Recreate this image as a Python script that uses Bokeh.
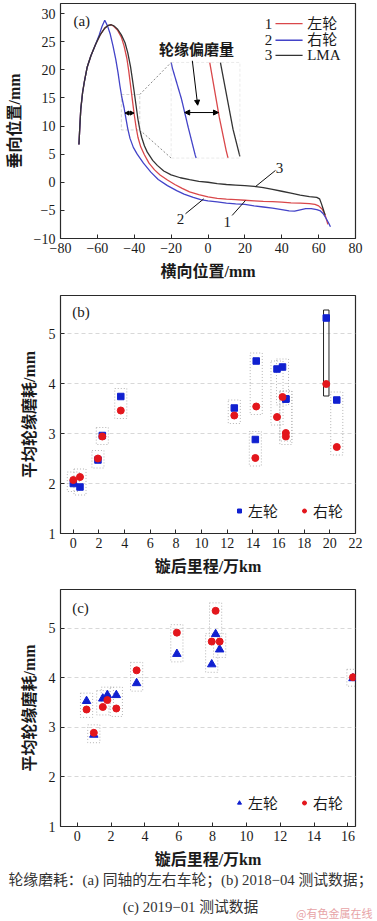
import numpy as np
from bokeh.plotting import figure
from bokeh.layouts import column
from bokeh.models import (Range1d, FixedTicker, CustomJSTickFormatter,
                          Legend, LegendItem, Label, Arrow, NormalHead, BoxAnnotation)
from bokeh.embed import file_html
from bokeh.resources import INLINE

# ---------------- data: panel (a) wheel profiles ----------------
lma_x = [-70.0, -69.5, -69.0, -68.0, -67.0, -65.5, -63.5, -61.0, -58.5, -56.0, -54.0, -52.5, -51.0, -49.0,
         -47.0, -45.0, -43.5, -42.0, -41.0, -40.0, -39.0, -38.0, -37.0, -36.0, -34.5, -33.0, -30.0, -27.5,
         -24.0, -20.0, -15.0, -10.0, -5.0, 0.0, 5.0, 10.0, 15.0, 20.0, 25.0, 30.0, 35.0, 40.0, 45.0, 50.0,
         55.0, 59.0, 60.5, 61.5, 62.5, 63.5]
lma_y = [6.7, 10.0, 13.0, 16.0, 18.0, 20.5, 22.5, 24.5, 26.2, 27.4, 27.9, 28.0, 27.8, 27.2,
         26.2, 24.8, 23.0, 20.5, 18.3, 16.0, 13.6, 11.2, 9.4, 8.0, 6.5, 5.4, 3.9, 3.0,
         2.0, 1.3, 0.8, 0.45, 0.15, 0.0, -0.25, -0.4, -0.5, -0.6, -0.75, -0.95, -1.25, -1.6, -1.95, -2.3,
         -2.55, -2.7, -2.95, -3.8, -4.8, -5.8]
left_x = [-70.0, -69.5, -69.0, -68.0, -67.0, -65.5, -63.5, -61.0, -58.5, -56.0, -54.0, -52.5, -51.0, -49.0,
          -47.0, -45.5, -44.0, -43.0, -42.0, -41.0, -40.0, -39.0, -38.0, -36.5, -34.5, -32.0, -29.0, -26.0,
          -22.0, -18.0, -14.0, -10.0, -5.0, 0.0, 5.0, 10.0, 15.0, 20.0, 25.0, 30.0, 35.0, 40.0, 45.0, 50.0,
          55.0, 58.0, 60.0, 62.0, 63.5, 64.5, 65.0]
left_y = [6.7, 10.0, 13.0, 16.0, 18.0, 20.5, 22.5, 24.5, 26.2, 27.4, 27.9, 28.0, 27.7, 27.0,
          25.8, 24.2, 22.0, 19.8, 17.2, 14.6, 12.0, 9.8, 8.0, 6.3, 4.9, 3.4, 2.2, 1.3,
          0.4, -0.4, -1.1, -1.7, -2.2, -2.6, -2.85, -3.0, -3.1, -3.2, -3.3, -3.4, -3.45, -3.55, -3.65, -3.7,
          -3.8, -3.95, -4.2, -4.8, -5.8, -6.9, -7.5]
right_x = [-70.0, -69.5, -69.0, -68.0, -67.0, -65.5, -63.5, -61.0, -59.0, -57.5, -56.0, -54.5, -53.0, -51.5,
           -50.0, -48.8, -47.8, -46.8, -45.5, -44.5, -43.5, -42.3, -40.5, -38.4, -35.0, -31.0, -27.0, -22.0,
           -17.0, -13.0, -8.0, -4.0, 0.0, 5.0, 10.0, 15.0, 20.0, 25.0, 30.0, 35.0, 40.0, 44.0, 47.0, 50.0,
           53.0, 56.0, 59.0, 61.0, 62.5, 64.0, 65.5, 66.4]
right_y = [6.7, 10.0, 13.0, 16.0, 18.0, 20.5, 22.5, 24.5, 26.2, 27.7, 28.8, 27.8, 26.3, 24.2,
           21.8, 19.5, 17.2, 15.2, 13.2, 11.3, 9.5, 7.8, 6.2, 5.0, 3.4, 1.8, 0.5, -0.6,
           -1.5, -2.1, -2.7, -3.1, -3.3, -3.5, -3.7, -3.85, -3.95, -4.2, -4.4, -4.6, -4.85, -5.1, -5.15, -4.9,
           -4.7, -4.7, -4.85, -5.1, -5.6, -6.4, -7.3, -7.9]
a_xticks = [-80, -60, -40, -20, 0, 20, 40, 60, 80]
a_yticks = [-10, -5, 0, 5, 10, 15, 20, 25, 30]
a_series = ["左轮", "右轮", "LMA"]

# ---------------- data: panel (b) 2018-04 ----------------
b_km = [0.0, 0.52, 1.92, 2.26, 3.70, 12.55, 14.26, 14.19, 15.88, 16.31, 16.57, 16.57, 19.72, 20.54]
b_left = [2.00, 1.93, 2.47, 2.96, 3.74, 3.51, 4.45, 2.88, 4.29, 4.33, 3.69, 3.69, 5.31, 3.67]
b_right = [2.07, 2.13, 2.50, 2.94, 3.46, 3.36, 3.54, 2.51, 3.33, 3.73, 3.01, 2.94, 3.99, 2.73]
b_xticks = [0, 2, 4, 6, 8, 10, 12, 14, 16, 18, 20, 22]

# ---------------- data: panel (c) 2019-01 ----------------
c_km = [0.55, 0.98, 1.51, 1.78, 2.31, 3.51, 5.89, 7.95, 8.18, 8.42, 16.3]
c_left = [3.53, 2.85, 3.58, 3.65, 3.65, 3.89, 4.48, 4.27, 4.88, 4.57, 3.99]
c_right = [3.36, 2.89, 3.41, 3.55, 3.38, 4.15, 4.91, 4.73, 5.35, 4.73, 4.01]
c_xticks = [0, 2, 4, 6, 8, 10, 12, 14, 16]
wear_yticks = [1, 2, 3, 4, 5]

SERIF = "Liberation Serif, Noto Sans CJK SC"
TXT = "#1a1a1a"
RED_L = "#d9474a"
BLUE_L = "#4343c8"
BLACK_L = "#333333"
BLUE_M = "#1020d0"
RED_M = "#e3161c"
W = 377


def base(height, xr, yr, top, bottom):
    p = figure(width=W, height=height, x_range=Range1d(*xr), y_range=Range1d(*yr),
               output_backend="svg", toolbar_location=None,
               min_border_left=60, min_border_right=22, min_border_top=top, min_border_bottom=bottom)
    p.outline_line_color = "#2a2a2a"
    p.outline_line_width = 1.2
    p.outline_line_alpha = 1.0
    for ax in (p.xaxis[0], p.yaxis[0]):
        ax.axis_line_color = None
        ax.major_tick_in = 4
        ax.major_tick_out = 0
        ax.minor_tick_line_color = None
        ax.major_tick_line_color = "#2a2a2a"
        ax.major_label_text_font = "Liberation Serif"
        ax.major_label_text_font_size = "14px"
        ax.major_label_text_color = TXT
        ax.axis_label_text_font = SERIF
        ax.axis_label_text_font_style = "bold"
        ax.axis_label_text_font_size = "16px"
        ax.axis_label_text_color = TXT
    p.xaxis.major_label_standoff = 4
    p.yaxis.major_label_standoff = 5
    p.xaxis.axis_label_standoff = 7
    p.yaxis.axis_label_standoff = 8
    p.xgrid.visible = False
    return p


# ======================= panel (a) =======================
pa = base(285, (-80, 80), (-10, 31.78), 3, 47)
pa.ygrid.visible = False
pa.xaxis.ticker = FixedTicker(ticks=a_xticks)
pa.yaxis.ticker = FixedTicker(ticks=a_yticks)
pa.xaxis.formatter = CustomJSTickFormatter(code="return tick < 0 ? '\u2212' + Math.abs(tick) : String(tick);")
pa.yaxis.formatter = CustomJSTickFormatter(code="return tick < 0 ? '\u2212' + Math.abs(tick) : String(tick);")
pa.xaxis.axis_label = "横向位置/mm"
pa.yaxis.axis_label = "垂向位置/mm"

r_left = pa.line(left_x, left_y, line_color=RED_L, line_width=1.3)
r_right = pa.line(right_x, right_y, line_color=BLUE_L, line_width=1.3)
r_lma = pa.line(lma_x, lma_y, line_color=BLACK_L, line_width=1.3)

# inset: magnified view of the flank region
SX = (-47.0, -37.0)
SY = (9.3, 15.6)
BX = (-20.0, 17.3)
BY = (4.3, 21.3)


def to_big(x, y):
    X = BX[0] + (np.asarray(x) - SX[0]) * (BX[1] - BX[0]) / (SX[1] - SX[0])
    Y = BY[0] + (np.asarray(y) - SY[0]) * (BY[1] - BY[0]) / (SY[1] - SY[0])
    return X, Y


def inset(xs, ys):
    xs = np.asarray(xs, float)
    ys = np.asarray(ys, float)
    t = np.linspace(0, len(xs) - 1, 6000)
    xi = np.interp(t, np.arange(len(xs)), xs)
    yi = np.interp(t, np.arange(len(ys)), ys)
    m = (xi >= SX[0]) & (xi <= SX[1]) & (yi >= SY[0]) & (yi <= SY[1])
    return to_big(xi[m], yi[m])


def x_at(xs, ys, y0):
    k = int(np.argmax(ys))
    for i in range(k, len(xs) - 1):
        if (ys[i] - y0) * (ys[i + 1] - y0) <= 0:
            return xs[i] + (y0 - ys[i]) * (xs[i + 1] - xs[i]) / (ys[i + 1] - ys[i])
    return xs[-1]


for xs, ys, c in ((right_x, right_y, BLUE_L), (left_x, left_y, RED_L), (lma_x, lma_y, BLACK_L)):
    X, Y = inset(xs, ys)
    pa.line(X, Y, line_color=c, line_width=1.3)

pa.add_layout(BoxAnnotation(left=SX[0], right=SX[1], bottom=SY[0], top=SY[1], fill_alpha=0,
                            line_color="#777777", line_dash="3 2", line_width=1))
pa.add_layout(BoxAnnotation(left=BX[0], right=BX[1], bottom=BY[0], top=BY[1], fill_alpha=0,
                            line_color="#b8b8b8", line_dash="3 2", line_width=1))
pa.add_layout(Arrow(x_start=SX[1], y_start=SY[1], x_end=BX[0], y_end=BY[1], end=None,
                    line_color="#8a8a8a", line_dash="2 2", line_width=1))
pa.add_layout(Arrow(x_start=SX[1], y_start=SY[0], x_end=BX[0], y_end=BY[0], end=None,
                    line_color="#8a8a8a", line_dash="2 2", line_width=1))

ya = 12.3
xb_s, xr_s = x_at(right_x, right_y, ya), x_at(left_x, left_y, ya)
pa.add_layout(Arrow(x_start=xb_s, y_start=ya, x_end=xr_s, y_end=ya, line_width=1,
                    start=NormalHead(size=4, fill_color="black"), end=NormalHead(size=4, fill_color="black")))
(bx1, bx2), (by1, _) = to_big([xb_s, xr_s], [ya, ya])
pa.add_layout(Arrow(x_start=bx1, y_start=by1, x_end=bx2, y_end=by1, line_width=1,
                    start=NormalHead(size=5, fill_color="black"), end=NormalHead(size=5, fill_color="black")))
pa.add_layout(Arrow(x_start=-8.5, y_start=21.6, x_end=-5.6, y_end=by1 + 1.3, line_width=1,
                    end=NormalHead(size=5, fill_color="black")))
pa.add_layout(Label(x=-6.2, y=23.6, text="轮缘偏磨量", text_font=SERIF, text_font_style="bold",
                    text_font_size="15px", text_align="center", text_baseline="middle", text_color=TXT))

# leader lines with curve numbers
for (x0, y0, x1, y1, lx, ly, t) in ((25.8, -0.76, 36.6, 2.1, 38.8, 2.6, "3"),
                                    (-2.3, -2.95, -12.2, -5.6, -14.9, -6.6, "2"),
                                    (20.3, -3.25, 13.1, -5.9, 10.4, -7.1, "1")):
    pa.add_layout(Arrow(x_start=x0, y_start=y0, x_end=x1, y_end=y1, end=None,
                        line_color="#111111", line_width=1))
    pa.add_layout(Label(x=lx, y=ly, text=t, text_font="Liberation Serif", text_font_size="15px",
                        text_align="center", text_baseline="middle", text_color=TXT))

pa.add_layout(Label(x=-73, y=28.6, text="(a)", text_font="Liberation Serif", text_font_size="15px",
                    text_align="left", text_baseline="middle", text_color=TXT))

# legend of panel (a): number, line sample, name
for i, (name, col, yy) in enumerate(zip(a_series, (RED_L, BLUE_L, BLACK_L), (28.2, 25.25, 22.55))):
    pa.add_layout(Label(x=32.8, y=yy, text=str(i + 1), text_font="Liberation Serif", text_font_size="15px",
                        text_align="center", text_baseline="middle", text_color=TXT))
    pa.add_layout(Arrow(x_start=36.6, y_start=yy, x_end=51.3, y_end=yy, end=None,
                        line_color=col, line_width=1.3))
    pa.add_layout(Label(x=53.8, y=yy, text=name, text_font=SERIF, text_font_size="15px",
                        text_align="left", text_baseline="middle", text_color=TXT))


# ======================= panels (b), (c) =======================
def wear_panel(height, frame_h, xr, yr, xticks, km, left, right, marker, msize, solid_idx, dx, dy, leg_y):
    p = base(height, xr, yr, 10, height - 10 - frame_h)
    p.xaxis.ticker = FixedTicker(ticks=xticks)
    p.yaxis.ticker = FixedTicker(ticks=wear_yticks)
    p.ygrid.ticker = FixedTicker(ticks=wear_yticks)
    p.ygrid.grid_line_color = "#d8d8d8"
    p.ygrid.grid_line_dash = "4 3"
    p.xaxis.axis_label = "镟后里程/万km"
    p.yaxis.axis_label = "平均轮缘磨耗/mm"
    km_a = np.asarray(km)
    lo = np.minimum(left, right) - dy
    hi = np.maximum(left, right) + dy
    dotted = [i for i in range(len(km)) if i not in solid_idx]
    p.quad(left=km_a[dotted] - dx, right=km_a[dotted] + dx, bottom=lo[dotted], top=hi[dotted],
           fill_alpha=0, line_color="#b4b4b4", line_dash="1 2", line_width=1)
    if solid_idx:
        p.quad(left=km_a[solid_idx] - dx * 0.45, right=km_a[solid_idx] + dx * 0.45,
               bottom=lo[solid_idx] - dy * 0.5, top=hi[solid_idx], fill_alpha=0,
               line_color="#222222", line_width=1)
    rl = p.scatter(km, left, marker=marker, size=msize, fill_color=BLUE_M, line_color=BLUE_M)
    rr = p.scatter(km, right, marker="circle", size=7, fill_color=RED_M, line_color=RED_M)
    leg = Legend(items=[LegendItem(label="左轮", renderers=[rl]), LegendItem(label="右轮", renderers=[rr])],
                 orientation="horizontal", location=(174, leg_y), padding=0, margin=0, spacing=21,
                 glyph_width=10, glyph_height=15, label_height=15, label_standoff=4,
                 border_line_color=None, background_fill_alpha=0,
                 label_text_font=SERIF, label_text_font_size="15px", label_text_color=TXT)
    p.add_layout(leg)
    return p


pb = wear_panel(294, 238, (-1.0, 22.0), (1.0, 5.76), b_xticks, b_km, b_left, b_right, "square", 6.5,
                [12], 0.47, 0.16, 12)
pb.add_layout(Label(x=-0.08, y=5.43, text="(b)", text_font="Liberation Serif", text_font_size="15px",
                    text_align="left", text_baseline="middle", text_color=TXT))

pc = wear_panel(291, 239, (-0.99, 16.45), (1.0, 5.78), c_xticks, c_km, c_left, c_right, "triangle", 8.5,
                [], 0.36, 0.16, 13)
pc.add_layout(Label(x=-0.3, y=5.40, text="(c)", text_font="Liberation Serif", text_font_size="15px",
                    text_align="left", text_baseline="middle", text_color=TXT))

# ======================= caption =======================
cap = figure(width=W, height=50, x_range=Range1d(0, W), y_range=Range1d(0, 50),
             output_backend="svg", toolbar_location=None, x_axis_type=None, y_axis_type=None,
             min_border=0, min_border_left=0, min_border_right=0, min_border_top=0, min_border_bottom=0)
cap.frame_align = False
cap.outline_line_color = None
cap.grid.visible = False
cap.add_layout(Label(x=190, y=41, text="轮缘磨耗：(a) 同轴的左右车轮；(b) 2018−04 测试数据；",
                     text_font=SERIF, text_font_size="14.8px", text_align="center", text_baseline="middle",
                     text_color="#333333"))
cap.add_layout(Label(x=190, y=14, text="(c) 2019−01 测试数据",
                     text_font=SERIF, text_font_size="14.8px", text_align="center", text_baseline="middle",
                     text_color="#333333"))
cap.add_layout(Label(x=372, y=8, text="@有色金属在线", text_font="Noto Sans CJK SC", text_font_size="11px",
                     text_align="right", text_baseline="middle", text_color="#e7a3a6"))

layout = column(pa, pb, pc, cap, spacing=0)
open("out.html", "w").write(file_html(layout, INLINE))
